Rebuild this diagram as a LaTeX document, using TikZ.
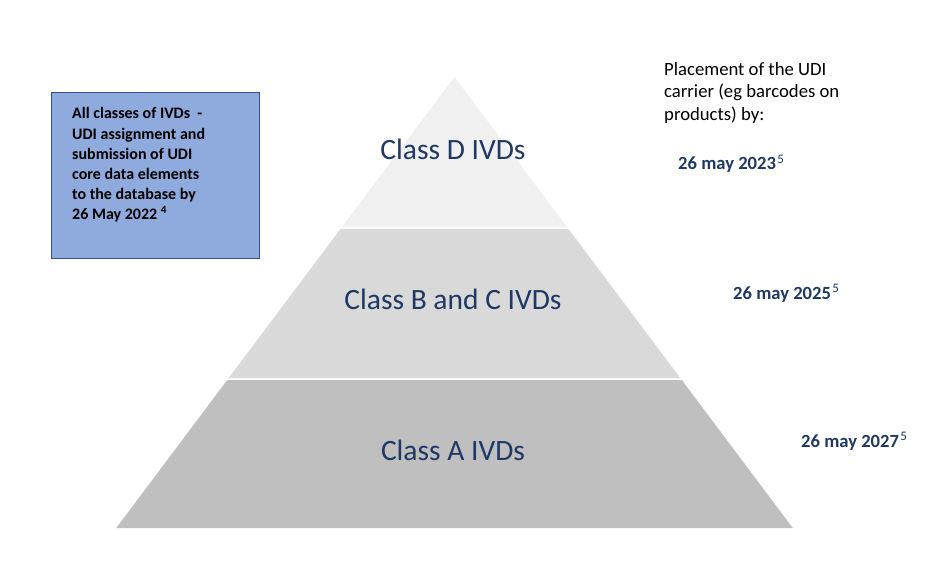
\documentclass[tikz,border=0pt]{standalone}
\usepackage{fontspec}
\setmainfont{Carlito}
\definecolor{navy}{HTML}{1F3864}
\definecolor{tierD}{HTML}{F0F0F0}
\definecolor{tierBC}{HTML}{D9D9D9}
\definecolor{tierA}{HTML}{BFBFBF}
\definecolor{boxfill}{HTML}{8FAADC}
\definecolor{boxline}{HTML}{2F528F}
\tikzset{
  tierlabel/.style={text=navy, font=\fontsize{29.5}{35}\selectfont, inner sep=0pt},
  datelabel/.style={text=navy, font=\bfseries\fontsize{18.6}{22}\selectfont, inner sep=0pt, anchor=base west},
}
\begin{document}
\begin{tikzpicture}[x=1pt,y=-1pt]
\useasboundingbox[fill=white] (0,0) rectangle (934,572);
% pyramid tiers
\fill[tierD] (454.5,77) -- (567,227) -- (342,227) -- cycle;
\fill[tierBC] (340.5,229) -- (568.5,229) -- (680.25,378) -- (228.75,378) -- cycle;
\fill[tierA] (227.25,380) -- (681.75,380) -- (792.75,528) -- (116.25,528) -- cycle;
\node[tierlabel] (lD) at (453,149) {Class D IVDs};
\node[tierlabel] (lBC) at (453,299) {Class B and C IVDs};
\node[tierlabel] (lA) at (453,450) {Class A IVDs};
% blue box
\draw[fill=boxfill, draw=boxline, line width=0.8pt] (51,92) rectangle (259,258);
\node[anchor=north west, inner sep=0pt, align=left, font=\bfseries\fontsize{16}{20.2}\selectfont] (boxtext) at (72,107.5)
  {All classes of IVDs\ \ -\\UDI assignment and\\submission of UDI\\core data elements\\to the database by\\26 May 2022 \textsuperscript{4}};
% right texts
\node[anchor=north west, inner sep=0pt, align=left, font=\fontsize{18.7}{22.6}\selectfont] (placement) at (664,62)
  {Placement of the UDI\\carrier (eg barcodes on\\products) by:};
\node[datelabel] (d23) at (678,170) {26 may 2023\kern1.5pt\textsuperscript{\mdseries 5}};
\node[datelabel] (d25) at (733,299) {26 may 2025\kern1.5pt\textsuperscript{\mdseries 5}};
\node[datelabel] (d27) at (801,447) {26 may 2027\kern1.5pt\textsuperscript{\mdseries 5}};
\end{tikzpicture}
\end{document}
